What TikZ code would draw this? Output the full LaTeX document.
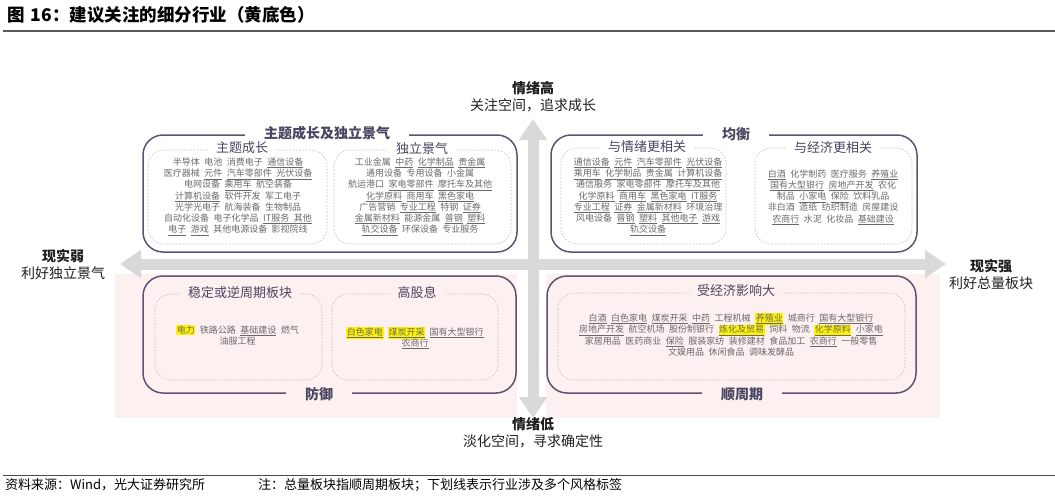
\documentclass[tikz,border=0pt]{standalone}
\usepackage{fontspec}
\setmainfont{Noto Sans CJK SC}
\usetikzlibrary{arrows.meta}
\definecolor{boxline}{HTML}{5C5274}
\definecolor{boxtext}{HTML}{4A4560}
\definecolor{itemgray}{HTML}{6A6A6A}
\definecolor{dashgray}{HTML}{C4C4C4}
\definecolor{pinkbg}{HTML}{FDF0F0}
\definecolor{arrowgray}{HTML}{D9D9D9}
\newcommand\un[1]{\underline{#1}}
\newcommand\hiy[1]{{\setlength{\fboxsep}{0.6pt}\colorbox{yellow}{#1}}}
\newcommand\itemfont{\fontsize{9}{11}\selectfont\spaceskip=4.5pt\relax}
\begin{document}
\begin{tikzpicture}[x=1pt,y=-1pt,
  outer/.style={draw=boxline,line width=1.5pt,rounded corners=20pt},
  inner/.style={draw=dashgray,line width=0.6pt,dash pattern=on 1.8pt off 1.5pt,rounded corners=16pt},
  otitle/.style={font=\fontsize{14}{16}\selectfont\bfseries,text=boxtext,inner xsep=19pt,inner ysep=1pt},
  ititle/.style={font=\fontsize{13}{15}\selectfont,text=boxtext,inner xsep=8pt,inner ysep=1pt},
  item/.style={font=\itemfont,text=itemgray,inner sep=0pt,anchor=base},
  axis/.style={font=\fontsize{14}{17}\selectfont,align=center,text=black!88},
  bigarrow/.style={draw=arrowgray,line width=11pt,{Triangle[width=27pt,length=21pt]}-{Triangle[width=27pt,length=21pt]}}]
\useasboundingbox (0,0) rectangle (1055,496);
\node[anchor=west,font=\fontsize{17.5}{20}\selectfont\bfseries,inner sep=0pt] (title) at (7,15) {图\hspace{0.35em}16：建议关注的细分行业（黄底色）};
\draw[line width=1.5pt,black!65] (3,31) -- (1055,31);
\fill[pinkbg] (115,274) rectangle (517,418);
\fill[pinkbg] (546,274) rectangle (940,418);
\coordinate (W) at (120,264);
\coordinate (E) at (946,264);
\coordinate (N) at (533,119);
\coordinate (S) at (533,418);
\draw[bigarrow] (W) -- (E);
\draw[bigarrow] (N) -- (S);
\node[axis] (qxg) at (533,97) {\textbf{情绪高}\\关注空间，追求成长};
\node[axis] (qxd) at (533,433) {\textbf{情绪低}\\淡化空间，寻求确定性};
\node[axis] (xsr) at (63,264) {\textbf{现实弱}\\利好独立景气};
\node[axis] (xsq) at (991,274) {\textbf{现实强}\\利好总量板块};
\draw[outer] (143,135) rectangle (517,252);
\draw[outer] (551,135) rectangle (917,252);
\draw[outer] (143,276) rectangle (516,393);
\draw[outer] (547,276) rectangle (916,393);
\node[otitle,fill=white] (ztdl) at (327,133) {主题成长及独立景气};
\node[otitle,fill=white] (jh) at (736,134) {均衡};
\node[otitle,fill=pinkbg] (fy) at (319,394) {防御};
\node[otitle,fill=pinkbg] (szq) at (742,394) {顺周期};
\draw[inner] (148,150) rectangle (327,244);
\draw[inner] (334,150) rectangle (511,244);
\draw[inner] (561,148) rectangle (726,244);
\draw[inner] (755,148) rectangle (912,244);
\draw[inner] (155,294) rectangle (322,380);
\draw[inner] (332,294) rectangle (498,380);
\draw[inner] (558,293) rectangle (905,380);
\node[ititle,fill=white] (zt) at (242,148) {主题成长};
\node[ititle,fill=white] (dj) at (422,149) {独立景气};
\node[ititle,fill=white] (qx) at (647,147) {与情绪更相关};
\node[ititle,fill=white] (jj) at (833,148) {与经济更相关};
\node[ititle,fill=pinkbg] (wd) at (240,293) {稳定或逆周期板块};
\node[ititle,fill=pinkbg] (gx) at (417,293) {高股息};
\node[ititle,fill=pinkbg] (jjyx) at (736,291) {受经济影响大};
\foreach \row [count=\i from 0] in {
  {半导体 电池 消费电子 \un{通信设备}},
  {医疗器械 \un{元件} \un{汽车零部件} \un{光伏设备}},
  {电网设备 \un{乘用车} 航空装备},
  {\un{计算机设备} 软件开发 军工电子},
  {光学光电子 航海装备 生物制品},
  {自动化设备 电子化学品 \un{IT服务 其他}},
  {\un{电子} \un{游戏} 其他电源设备 影视院线}}
    \node[item] (zt\i) at (238,165.5+11.2*\i) {\row};
\foreach \row [count=\i from 0] in {
  {工业金属 \un{中药} \un{化学制品} \un{贵金属}},
  {通用设备 专用设备 小金属},
  {航运港口 \un{家电零部件} \un{摩托车及其他}},
  {\un{化学原料} \un{商用车} \un{黑色家电}},
  {广告营销 \un{专业工程} 特钢 \un{证券}},
  {\un{金属新材料} 能源金属 \un{普钢} \un{塑料}},
  {\un{轨交设备} 环保设备 专业服务}}
    \node[item] (dj\i) at (420,165.5+11.2*\i) {\row};
\foreach \row [count=\i from 0] in {
  {\un{通信设备} \un{元件} \un{汽车零部件} \un{光伏设备}},
  {\un{乘用车} \un{化学制品} \un{贵金属} \un{计算机设备}},
  {通信服务 \un{家电零部件} \un{摩托车及其他}},
  {\un{化学原料} \un{商用车} \un{黑色家电} \un{IT服务}},
  {\un{专业工程} \un{证券} \un{金属新材料} 环境治理},
  {风电设备 \un{普钢} \un{塑料} \un{其他电子} \un{游戏}},
  {\un{轨交设备}}}
    \node[item] (qx\i) at (648,165.5+11.2*\i) {\row};
\foreach \row [count=\i from 0] in {
  {\un{白酒} 化学制药 医疗服务 \un{养殖业}},
  {\un{国有大型银行} \un{房地产开发} 农化},
  {制品 \un{小家电} \un{保险} 饮料乳品},
  {非白酒 造纸 纺织制造 房屋建设},
  {\un{农商行} 水泥 化妆品 \un{基础建设}}}
    \node[item] (jj\i) at (833,177+11.3*\i) {\row};
\foreach \row [count=\i from 0] in {
  {\hiy{电力} 铁路公路 \un{基础建设} 燃气},
  {油服工程}}
    \node[item] (wd\i) at (237.5,333.5+11*\i) {\row};
\foreach \row [count=\i from 0] in {
  {\hiy{\un{白色家电}} \hiy{\un{煤炭开采}} \un{国有大型银行}},
  {\un{农商行}}}
    \node[item] (gx\i) at (415,335.5+10.5*\i) {\row};
\foreach \row [count=\i from 0] in {
  {\un{白酒} \un{白色家电} \un{煤炭开采} \un{中药} 工程机械 \hiy{\un{养殖业}} 城商行 \un{国有大型银行}},
  {\un{房地产开发} 航空机场 股份制银行 \hiy{\un{炼化及贸易}} 饲料 物流 \hiy{\un{化学原料}} \un{小家电}},
  {家居用品 医药商业 \un{保险} 服装家纺 装修建材 食品加工 \un{农商行} 一般零售},
  {文娱用品 休闲食品 调味发酵品}}
    \node[item] (jjyx\i) at (731,321.5+11.4*\i) {\row};
\draw[line width=0.8pt,black!70] (3,475) -- (1055,475);
\node[anchor=west,font=\fontsize{13}{15}\selectfont,inner sep=0pt] (src) at (5,485) {资料来源：Wind，光大证券研究所};
\node[anchor=west,font=\fontsize{13}{15}\selectfont,inner sep=0pt] (note) at (258,485) {注：总量板块指顺周期板块；下划线表示行业涉及多个风格标签};
\end{tikzpicture}
\end{document}
